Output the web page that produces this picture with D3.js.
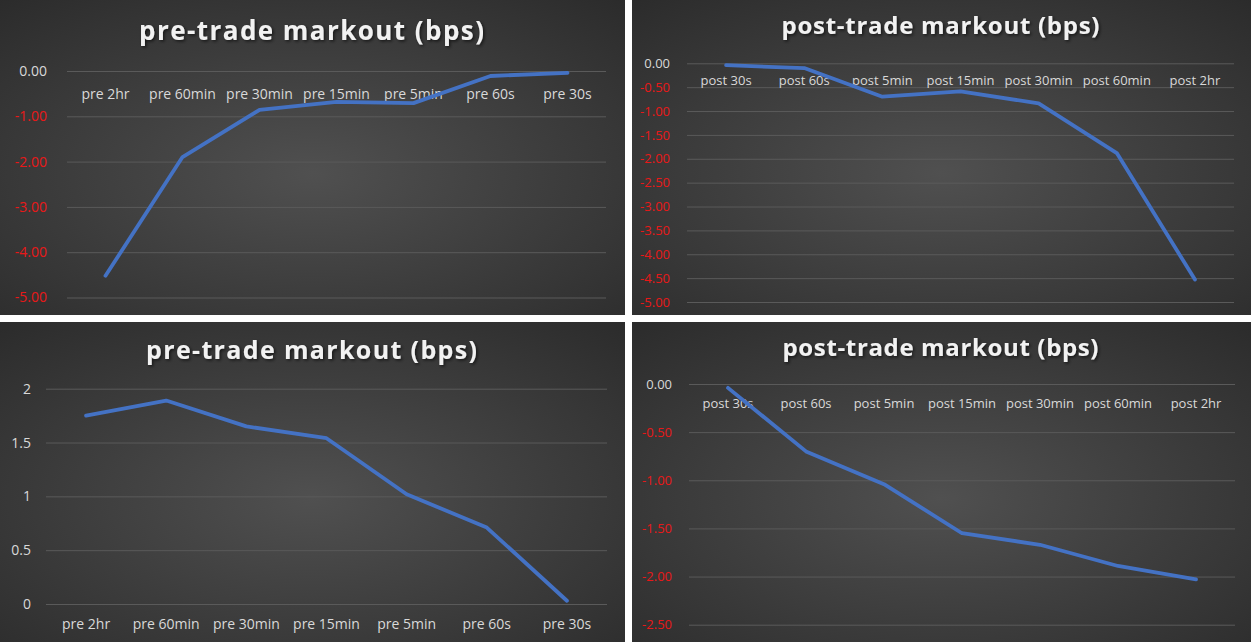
<!DOCTYPE html>
<html>
<head>
<meta charset="utf-8">
<script src="https://cdn.jsdelivr.net/npm/d3@7"></script>
<style>
  html, body { margin: 0; padding: 0; background: #ffffff; }
  svg { display: block; }
</style>
</head>
<body>
<svg id="chart" width="1251" height="642"></svg>
<script>
// ---------------- data ----------------
const preCategories  = ["pre 2hr", "pre 60min", "pre 30min", "pre 15min", "pre 5min", "pre 60s", "pre 30s"];
const postCategories = ["post 30s", "post 60s", "post 5min", "post 15min", "post 30min", "post 60min", "post 2hr"];

const preTopValues     = [-4.52, -1.90, -0.86, -0.68, -0.71, -0.11, -0.04];
const postTopValues    = [-0.04, -0.10, -0.70, -0.59, -0.84, -1.88, -4.53];
const preBottomValues  = [1.75, 1.89, 1.65, 1.54, 1.02, 0.71, 0.03];
const postBottomValues = [-0.04, -0.70, -1.04, -1.55, -1.67, -1.89, -2.03];

const preTopTicks     = [0, -1, -2, -3, -4, -5];
const postTopTicks    = [0, -0.5, -1, -1.5, -2, -2.5, -3, -3.5, -4, -4.5, -5];
const preBottomTicks  = [0, 0.5, 1, 1.5, 2];
const postBottomTicks = [0, -0.5, -1, -1.5, -2, -2.5];

const preTitle  = "pre-trade markout (bps)";
const postTitle = "post-trade markout (bps)";

// ---------------- layout ----------------
const loc = d3.formatLocale({decimal: ".", thousands: ",", grouping: [3], currency: ["$", ""], minus: "-"});
const fmt2 = loc.format(".2f");
const fmtG = v => String(v);

const panels = [
  { ox: 0,   oy: 0,   w: 625, h: 315, title: preTitle,  cats: preCategories,  values: preTopValues,
    ticks: preTopTicks, domain: [-5, 0], fmt: fmt2, redNeg: true,
    px0: 67, px1: 606, yTop: 71, yBot: 297.5,
    titleSize: 26, titleW: 345, titleY: 40, xFont: 14, yFont: 14, xPad: 17.8, yPad: 20 },
  { ox: 632, oy: 0,   w: 619, h: 315, title: postTitle, cats: postCategories, values: postTopValues,
    ticks: postTopTicks, domain: [-5, 0], fmt: fmt2, redNeg: true,
    px0: 55, px1: 602, yTop: 63.3, yBot: 302,
    titleSize: 24, titleW: 318, titleY: 34, xFont: 13, yFont: 13, xPad: 12.7, yPad: 17 },
  { ox: 0,   oy: 322, w: 625, h: 320, title: preTitle,  cats: preCategories,  values: preBottomValues,
    ticks: preBottomTicks, domain: [0, 2], fmt: fmtG, redNeg: false,
    px0: 46, px1: 607, yTop: 66.7, yBot: 282,
    titleSize: 25, titleW: 331, titleY: 37, xFont: 14, yFont: 14, xPad: 14.8, yPad: 15 },
  { ox: 632, oy: 322, w: 619, h: 320, title: postTitle, cats: postCategories, values: postBottomValues,
    ticks: postBottomTicks, domain: [-2.5, 0], fmt: fmt2, redNeg: true,
    px0: 57, px1: 603, yTop: 62, yBot: 302.7,
    titleSize: 24, titleW: 316, titleY: 34, xFont: 13, yFont: 13, xPad: 14.3, yPad: 17 }
];

const svg = d3.select("#chart");
const defs = svg.append("defs");

const grad = defs.append("radialGradient")
  .attr("id", "bg")
  .attr("cx", "50%").attr("cy", "55%").attr("r", "75%");
grad.append("stop").attr("offset", "0%").attr("stop-color", "#505050");
grad.append("stop").attr("offset", "100%").attr("stop-color", "#2b2b2b");

const shadow = defs.append("filter").attr("id", "tshadow")
  .attr("x", "-10%").attr("y", "-30%").attr("width", "120%").attr("height", "160%");
shadow.append("feDropShadow").attr("dx", 1.5).attr("dy", 1.5).attr("stdDeviation", 1.5)
  .attr("flood-color", "#000").attr("flood-opacity", 0.6);

panels.forEach(p => {
  const g = svg.append("g").attr("transform", `translate(${p.ox},${p.oy})`);

  g.append("rect").attr("width", p.w).attr("height", p.h).attr("fill", "url(#bg)");

  const x = d3.scaleBand().domain(p.cats).range([p.px0, p.px1]).padding(0);
  const y = d3.scaleLinear().domain(p.domain).range([p.yBot, p.yTop]);

  // title
  g.append("text")
    .attr("x", p.w / 2 - 1).attr("y", p.titleY)
    .attr("text-anchor", "middle")
    .attr("font-family", "'Open Sans', sans-serif")
    .attr("font-weight", 700)
    .attr("font-size", p.titleSize)
    .attr("fill", "#f2f2f2")
    .attr("textLength", p.titleW)
    .attr("lengthAdjust", "spacing")
    .attr("filter", "url(#tshadow)")
    .text(p.title);

  // gridlines
  g.append("g")
    .attr("transform", `translate(${p.px0},0)`)
    .call(d3.axisLeft(y).tickValues(p.ticks).tickSize(-(p.px1 - p.px0)).tickFormat(""))
    .call(s => s.select(".domain").remove())
    .call(s => s.selectAll("line").attr("stroke", "#5a5a5a").attr("stroke-width", 1));

  // y labels
  g.append("g")
    .attr("transform", `translate(${p.px0},0)`)
    .call(d3.axisLeft(y).tickValues(p.ticks).tickSize(0).tickPadding(p.yPad).tickFormat(p.fmt))
    .call(s => s.select(".domain").remove())
    .call(s => s.selectAll("text")
      .attr("font-family", "'Open Sans', sans-serif")
      .attr("font-size", p.yFont)
      .attr("fill", d => (p.redNeg && d < 0) ? "#e81818" : "#d9d9d9"));

  // x labels
  g.append("g")
    .attr("transform", `translate(0,${y(0)})`)
    .call(d3.axisBottom(x).tickSize(0).tickPadding(p.xPad))
    .call(s => s.select(".domain").remove())
    .call(s => s.selectAll("text")
      .attr("font-family", "'Open Sans', sans-serif")
      .attr("font-size", p.xFont)
      .attr("fill", "#d9d9d9"));

  // line
  const line = d3.line()
    .x((d, i) => x(p.cats[i]) + x.bandwidth() / 2)
    .y(d => y(d));
  g.append("path")
    .datum(p.values)
    .attr("d", line)
    .attr("fill", "none")
    .attr("stroke", "#4472c4")
    .attr("stroke-width", 3.8)
    .attr("stroke-linejoin", "round")
    .attr("stroke-linecap", "round");
});
</script>
</body>
</html>
